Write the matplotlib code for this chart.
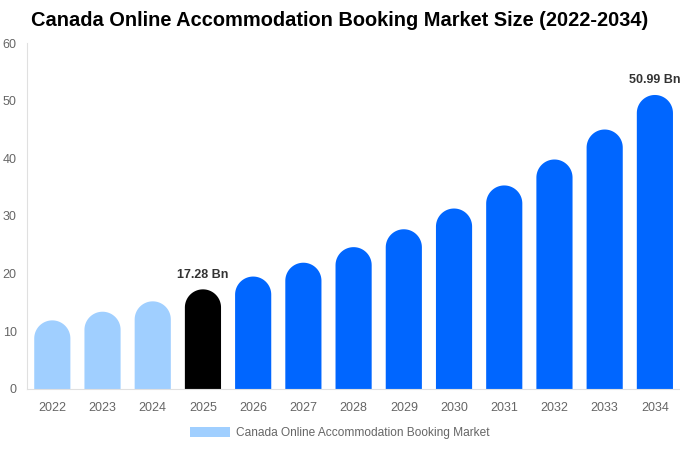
import numpy as np
import matplotlib.pyplot as plt
from matplotlib.patches import Polygon, Patch

plt.rcParams['font.family'] = ['Liberation Sans', 'DejaVu Sans']

years = ["2022", "2023", "2024", "2025", "2026", "2027", "2028",
         "2029", "2030", "2031", "2032", "2033", "2034"]
values = [11.9, 13.4, 15.2, 17.28, 19.5, 21.9, 24.6, 27.7, 31.3, 35.3, 39.8, 45.0, 50.99]
colors = ["#a0cfff"] * 3 + ["#000000"] + ["#0066ff"] * 9
labels = {3: "17.28 Bn", 12: "50.99 Bn"}
legend_text = "Canada Online Accommodation Booking Market"

fig = plt.figure(figsize=(6.8, 4.5), dpi=100)
ax_rect = [0.04, 0.1356, 0.96, 0.7688]
ax = fig.add_axes(ax_rect)

bar_w = 0.72
ymax = 60
ax.set_xlim(-0.5, len(years) - 0.5)
ax.set_ylim(0, ymax)

# radius der runden kappe in daten-einheiten (halbe balkenbreite in pixel)
ax_w_px = ax_rect[2] * 680
ax_h_px = ax_rect[3] * 450
r_px = bar_w / len(years) * ax_w_px / 2
r_y = r_px / ax_h_px * ymax
t = np.linspace(np.pi, 0, 40)

for i, (v, c) in enumerate(zip(values, colors)):
    xs = np.concatenate([[i - bar_w / 2], i + bar_w / 2 * np.cos(t), [i + bar_w / 2]])
    ys = np.concatenate([[0], v - r_y + r_y * np.sin(t), [0]])
    ax.add_patch(Polygon(np.column_stack([xs, ys]), closed=True, facecolor=c, edgecolor="none"))
    if i in labels:
        ax.text(i, v + 1.5, labels[i], ha="center", va="bottom", fontsize=9,
                fontweight="bold", color="#333333")

ax.set_xticks(range(len(years)))
ax.set_xticklabels(years)
ax.set_yticks(range(0, 61, 10))
ax.tick_params(length=0, labelsize=9, colors="#666666")
ax.tick_params(axis="x", pad=9.5)
ax.tick_params(axis="y", pad=7.5)
for s in ["top", "right"]:
    ax.spines[s].set_visible(False)
ax.spines["left"].set_color("#e0e0e0")
ax.spines["bottom"].set_color("#e0e0e0")

fig.suptitle("Canada Online Accommodation Booking Market Size (2022-2034)",
             x=0.5, y=0.975, fontsize=14.4, fontweight="bold")

fig.legend(handles=[Patch(facecolor="#a0cfff", edgecolor="none", label=legend_text)],
           loc="lower center", bbox_to_anchor=(0.5, 0.0), frameon=False,
           fontsize=8.6, labelcolor="#666666", handlelength=3.35, handleheight=0.9,
           handletextpad=0.5)

plt.savefig("out.png", dpi=100)
